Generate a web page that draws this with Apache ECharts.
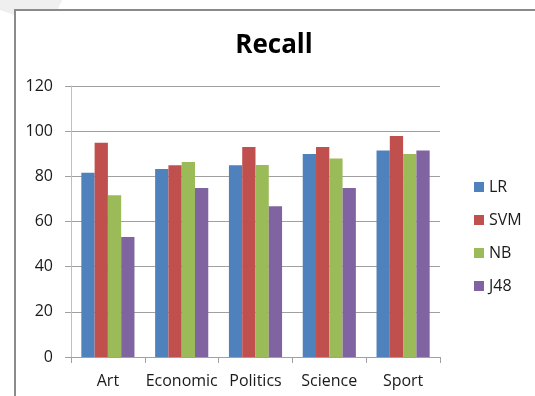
<!DOCTYPE html>
<html>
<head>
<meta charset="utf-8">
<script src="https://cdn.jsdelivr.net/npm/echarts@6/dist/echarts.min.js"></script>
<style>
  html, body { margin: 0; padding: 0; background: #ffffff; }
  #chart { width: 535px; height: 396px; }
</style>
</head>
<body>
<div id="chart"></div>
<script>
// Recall per category for four classifiers
const categories = ['Art', 'Economic', 'Politics', 'Science', 'Sport'];
const lr  = [81.6, 83.3, 84.9, 89.9, 91.4];
const svm = [94.9, 84.9, 93.0, 93.0, 97.9];
const nb  = [71.6, 86.4, 85.0, 87.9, 89.9];
const j48 = [53.1, 74.8, 66.7, 74.8, 91.4];
const yTicks = [0, 20, 40, 60, 80, 100, 120];

const seriesDefs = [
  { name: 'LR',  data: lr,  color: '#4F81BD' },
  { name: 'SVM', data: svm, color: '#C0504D' },
  { name: 'NB',  data: nb,  color: '#9BBB59' },
  { name: 'J48', data: j48, color: '#8064A2' }
];

const font = '"Open Sans", "Noto Sans", sans-serif';
const chart = echarts.init(document.getElementById('chart'));

chart.setOption({
  animation: false,
  backgroundColor: '#ffffff',
  textStyle: { fontFamily: font },
  graphic: [
    {
      type: 'polygon',
      z: -10,
      shape: { points: [[0, 0], [62, 0], [52, 22], [40, 24], [0, 10]] },
      style: { fill: '#efefef' },
      silent: true
    },
    {
      type: 'rect',
      z: -5,
      shape: { x: 15, y: 10, width: 640, height: 500 },
      style: { fill: '#ffffff', stroke: '#8a8a8a', lineWidth: 2 },
      silent: true
    }
  ],
  title: {
    text: 'Recall',
    left: 269,
    top: 28,
    textAlign: 'center',
    textStyle: { fontFamily: font, fontSize: 26, fontWeight: 'bold', color: '#000000' }
  },
  legend: {
    orient: 'vertical',
    left: 469,
    top: 174,
    itemWidth: 10,
    itemHeight: 10,
    itemGap: 17,
    icon: 'rect',
    textStyle: { fontFamily: font, fontSize: 16, color: '#1a1a1a', lineHeight: 16 },
    data: seriesDefs.map(s => s.name)
  },
  grid: { left: 71, right: 95, top: 86, bottom: 39, containLabel: false },
  xAxis: {
    type: 'category',
    data: categories,
    axisLine: { lineStyle: { color: '#a0a0a0', width: 1 } },
    axisTick: { show: true, length: 6, lineStyle: { color: '#a0a0a0' } },
    axisLabel: { interval: 0, fontFamily: font, fontSize: 16, color: '#1a1a1a', margin: 16 }
  },
  yAxis: {
    type: 'value',
    min: yTicks[0],
    max: yTicks[yTicks.length - 1],
    interval: yTicks[1] - yTicks[0],
    axisLine: { show: true, lineStyle: { color: '#c0c0c0', width: 1 } },
    axisTick: { show: true, length: 6, lineStyle: { color: '#a0a0a0' } },
    axisLabel: { fontFamily: font, fontSize: 16, color: '#1a1a1a', margin: 18 },
    splitLine: { show: true, lineStyle: { color: '#a0a0a0', width: 1 } }
  },
  series: seriesDefs.map(s => ({
    type: 'bar',
    name: s.name,
    data: s.data,
    barGap: '0%',
    barCategoryGap: '28%',
    itemStyle: { color: s.color }
  }))
});
</script>
</body>
</html>
